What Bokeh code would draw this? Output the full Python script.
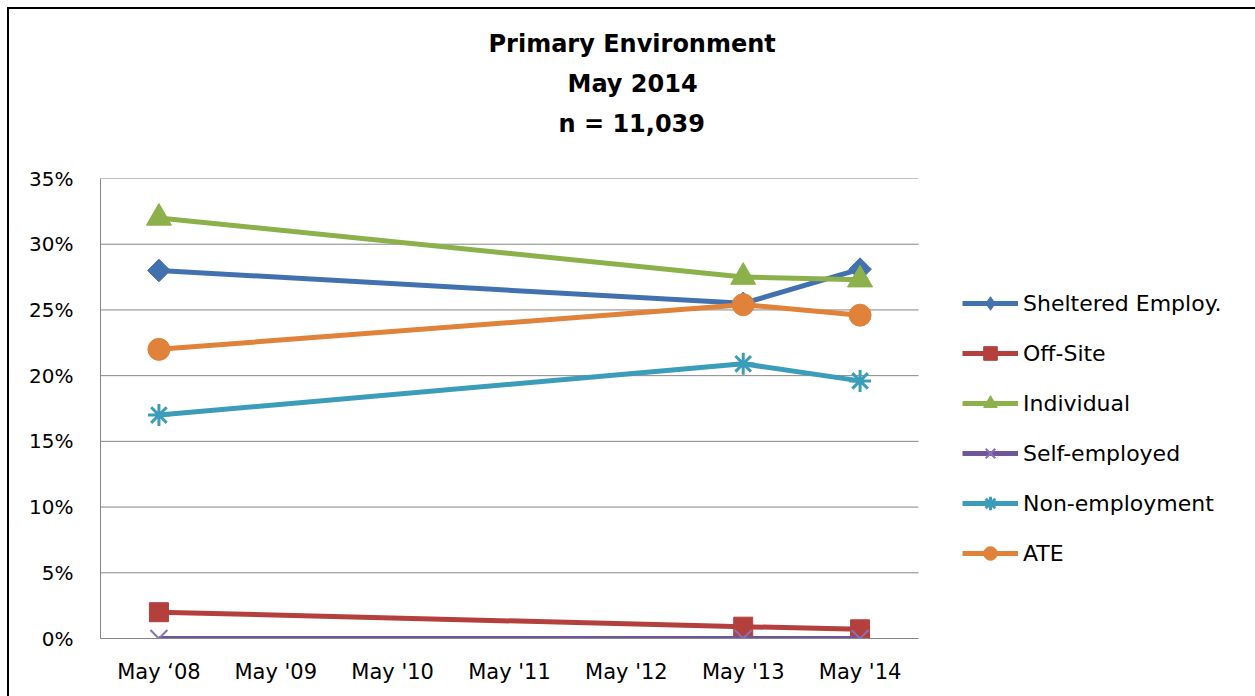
from bokeh.plotting import figure
from bokeh.models import (Title, Legend, LegendItem, Range1d, FixedTicker, PrintfTickFormatter)
from bokeh.embed import file_html
from bokeh.resources import INLINE

# ---- data ----
categories = ["May \u201808", "May '09", "May '10", "May '11", "May '12", "May '13", "May '14"]
data_points = ["May \u201808", "May '13", "May '14"]
sheltered = [28.0, 25.5, 28.1]
off_site = [2.0, 0.9, 0.7]
individual = [32.0, 27.5, 27.3]
self_employed = [0.0, 0.0, 0.0]
non_employment = [17.0, 20.9, 19.6]
ate = [22.0, 25.4, 24.6]
series_names = ["Sheltered Employ.", "Off-Site", "Individual", "Self-employed", "Non-employment", "ATE"]
y_ticks = [0, 5, 10, 15, 20, 25, 30, 35]
title_lines = ["Primary Environment", "May 2014", "n = 11,039"]

FONT = "DejaVu Sans"
W, H = 1255, 696
LEFT = 100
PLOT_PX = 818          # pixel width of the category area
n_cat = len(categories)
cat_pos = {c: i + 0.5 for i, c in enumerate(categories)}
xs = [cat_pos[c] for c in data_points]

# x range extends to the right so the legend can sit inside the frame area
x_end = n_cat * (W - LEFT) / PLOT_PX

p = figure(width=W, height=H, output_backend="svg", toolbar_location=None,
           x_range=Range1d(0, x_end), y_range=Range1d(0, 35),
           min_border_left=LEFT, min_border_right=0, min_border_bottom=58, min_border_top=0)
p.styles = {"background": ("linear-gradient(#000000, #000000) 7px 7px / 2px 100% no-repeat, "
                           "linear-gradient(#000000, #000000) 7px 7px / 100% 2px no-repeat, #ffffff")}
p.outline_line_color = None
p.background_fill_color = "white"
p.border_fill_alpha = 0

# spacer between plot frame and title block
p.add_layout(Title(text=" ", text_font=FONT, text_font_size="10px", standoff=23), "above")
title_offsets = [388, 467, 458]
for t, off in reversed(list(zip(title_lines, title_offsets))):
    p.add_layout(Title(text=t, align="left", offset=off, text_font=FONT, text_font_size="24px",
                       text_font_style="bold", text_color="#000000", standoff=10), "above")
p.add_layout(Title(text=" ", text_font=FONT, text_font_size="10px", standoff=9), "above")

# axes
for ax in (p.xaxis[0], p.yaxis[0]):
    ax.axis_line_color = "#868686"
    ax.major_tick_out = 0
    ax.major_tick_in = 0
    ax.minor_tick_out = 0
    ax.minor_tick_in = 0
    ax.major_label_text_font = FONT
    ax.major_label_text_color = "#000000"
p.xaxis[0].major_label_text_font_size = "21px"
p.yaxis[0].major_label_text_font_size = "20px"
p.xaxis[0].ticker = FixedTicker(ticks=[cat_pos[c] for c in categories])
p.xaxis[0].major_label_overrides = {cat_pos[c]: c for c in categories}
p.xaxis[0].bounds = (0, n_cat)
p.xaxis[0].major_label_standoff = 21
p.yaxis[0].ticker = FixedTicker(ticks=y_ticks)
p.yaxis[0].formatter = PrintfTickFormatter(format="%d%%")
p.yaxis[0].major_label_standoff = 27
p.xgrid.grid_line_color = None
p.ygrid.grid_line_color = None

# horizontal gridlines limited to the category area
p.segment(x0=[0] * len(y_ticks), x1=[n_cat] * len(y_ticks), y0=y_ticks, y1=y_ticks,
          line_color="#868686", line_width=1)

colors = ["#4271B0", "#B3403D", "#8CB04A", "#6E569A", "#3B9DBA", "#E0823A"]
values = [sheltered, off_site, individual, self_employed, non_employment, ate]
markers = [dict(marker="square", angle=0.785398, size=16),
           dict(marker="square", size=19),
           dict(marker="triangle", size=25),
           dict(marker="x", size=24, line_width=2, line_color="#8A70B5"),
           dict(marker="asterisk", size=22, line_width=3),
           dict(marker="circle", size=22)]

items = []
for name, col, vals, mk in zip(series_names, colors, values, markers):
    lr = p.line(x=xs, y=vals, line_color=col, line_width=5)
    kw = dict(mk)
    kw.setdefault("line_color", col)
    leg_r = None
    if kw.get("angle"):
        # diamond used for the legend key, hidden beneath the rotated square in the plot
        leg_r = p.scatter(x=xs, y=vals, marker="diamond", size=14, fill_color=col, line_color=col)
    sr = p.scatter(x=xs, y=vals, fill_color=col, **kw)
    items.append(LegendItem(label=name, renderers=[lr, leg_r if leg_r is not None else sr]))

legend = Legend(items=items, location=(862, 68), margin=0,
                label_text_font=FONT, label_text_font_size="22px", label_text_color="#000000",
                glyph_width=56, glyph_height=34, label_height=32, spacing=16,
                label_standoff=5, padding=0,
                border_line_color=None, background_fill_alpha=0)
p.add_layout(legend, "center")

open("out.html", "w").write(file_html(p, INLINE))
